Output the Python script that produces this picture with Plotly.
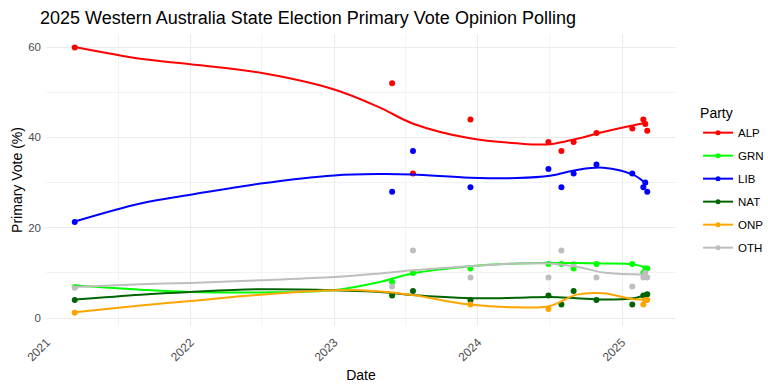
import plotly.graph_objects as go

# ---- Poll data ----
poll_dates = ["2021-03-13", "2023-05-28", "2023-07-20", "2023-12-13", "2024-06-28",
              "2024-07-31", "2024-08-31", "2024-10-28", "2025-01-27", "2025-02-24",
              "2025-03-01", "2025-03-06"]
parties = ["ALP", "GRN", "LIB", "NAT", "ONP", "OTH"]
colors = {"ALP": "#FF0000", "GRN": "#00FF00", "LIB": "#0000FF",
          "NAT": "#006400", "ONP": "#FFA500", "OTH": "#BEBEBE"}

alp = [59.9, 52, 32, 44, 39, 37, 39, 41, 42, 44, 43, 41.5]
grn = [6.9, 8, 10, 11, 12, 12, 11, 12, 12, 10, 11, 11]
lib = [21.3, 28, 37, 29, 33, 29, 32, 34, 32, 29, 30, 28]
nat = [4.0, 5, 6, 4, 5, 3, 6, 4, 3, 5, 5, 5.3]
onp = [1.2, None, None, 3, 2, None, None, None, None, 3, 4, 4]
oth = [6.7, 7, 15, 9, 9, 15, 12, 9, 7, 9, 10, 9]

# ---- Smoothed trend values ----
trend_dates = ["2021-03-13", "2021-08-27", "2022-01-01", "2022-06-28", "2023-01-01",
               "2023-04-27", "2023-07-19", "2023-12-12", "2024-04-09", "2024-07-02",
               "2024-09-08", "2024-11-14", "2025-01-30", "2025-03-06"]
alp_trend = [60.0, 57.4, 56.2, 54.3, 50.6, 46.6, 43.1, 39.8, 38.7, 38.5, 39.7, 41.2, 42.7, 43.3]
grn_trend = [7.2, 6.3, 5.8, 5.7, 6.2, 8.0, 9.9, 11.5, 12.1, 12.2, 12.2, 12.1, 11.9, 11.1]
lib_trend = [21.4, 25.4, 27.3, 29.8, 31.6, 31.9, 31.8, 31.1, 31.0, 31.5, 32.8, 33.3, 31.7, 29.5]
nat_trend = [4.1, 5.2, 5.8, 6.4, 6.2, 5.8, 5.1, 4.4, 4.5, 4.7, 4.4, 4.1, 4.4, 5.3]
onp_trend = [1.3, 2.8, 3.8, 5.2, 6.2, 5.9, 5.1, 3.0, 2.4, 2.7, 5.2, 5.5, 4.2, 4.2]
oth_trend = [6.9, 7.5, 7.8, 8.4, 9.1, 9.9, 10.6, 11.5, 12.1, 12.1, 11.4, 10.1, 9.7, 9.7]

points = {"ALP": alp, "GRN": grn, "LIB": lib, "NAT": nat, "ONP": onp, "OTH": oth}
trends = {"ALP": alp_trend, "GRN": grn_trend, "LIB": lib_trend,
          "NAT": nat_trend, "ONP": onp_trend, "OTH": oth_trend}

FONT = "Liberation Sans, Arial, sans-serif"
fig = go.Figure()

for p in parties:
    fig.add_trace(go.Scatter(x=poll_dates, y=points[p], mode="markers",
                             marker=dict(color=colors[p], size=6),
                             showlegend=False, hoverinfo="skip"))
for p in parties:
    fig.add_trace(go.Scatter(x=trend_dates, y=trends[p], mode="lines",
                             line=dict(color=colors[p], width=2, shape="spline", smoothing=1.0),
                             showlegend=False, hoverinfo="skip"))
for p in parties:
    fig.add_trace(go.Scatter(x=[None], y=[None], mode="lines+markers", name=p,
                             legendgroup=p,
                             line=dict(color=colors[p], width=2),
                             marker=dict(color=colors[p], size=5)))

fig.update_layout(
    width=768, height=384,
    margin=dict(l=46, r=92, t=34, b=58, autoexpand=False),
    paper_bgcolor="white", plot_bgcolor="white",
    font=dict(family=FONT, color="#000000"),
    title=dict(text="2025 Western Australia State Election Primary Vote Opinion Polling",
               x=40 / 768, xanchor="left", xref="container",
               y=1 - 18 / 384, yanchor="middle", yref="container",
               font=dict(size=18, color="#000000"), automargin=False),
    legend=dict(title=dict(text="Party", font=dict(size=14)),
                font=dict(size=11.5, color="#000000"),
                x=1.035, xanchor="left", y=0.495, yanchor="middle",
                tracegroupgap=4, itemwidth=30),
    xaxis=dict(type="date", range=["2020-12-30", "2025-05-18"], automargin=False,
               tick0="2021-01-01", dtick="M12", tickformat="%Y", tickangle=-45,
               showgrid=True, gridcolor="#EBEBEB", gridwidth=1,
               minor=dict(dtick="M6", showgrid=True, gridcolor="#F3F3F3", gridwidth=0.6),
               zeroline=False, showline=False, ticks="",
               tickfont=dict(size=12, color="#4D4D4D"),
               ticklabelstandoff=6,
               title=dict(text="Date", font=dict(size=14), standoff=6)),
    yaxis=dict(range=[-1.74, 62.9], tick0=0, dtick=20, automargin=False,
               showgrid=True, gridcolor="#EBEBEB", gridwidth=1,
               minor=dict(dtick=10, showgrid=True, gridcolor="#F3F3F3", gridwidth=0.6),
               zeroline=False, showline=False, ticks="",
               tickfont=dict(size=11.5, color="#4D4D4D"),
               ticklabelstandoff=4,
               title=dict(text="Primary Vote (%)", font=dict(size=14), standoff=2)),
)

fig.write_html("out.html", config={"displayModeBar": False},
               post_script="document.body.style.margin='0px';")
